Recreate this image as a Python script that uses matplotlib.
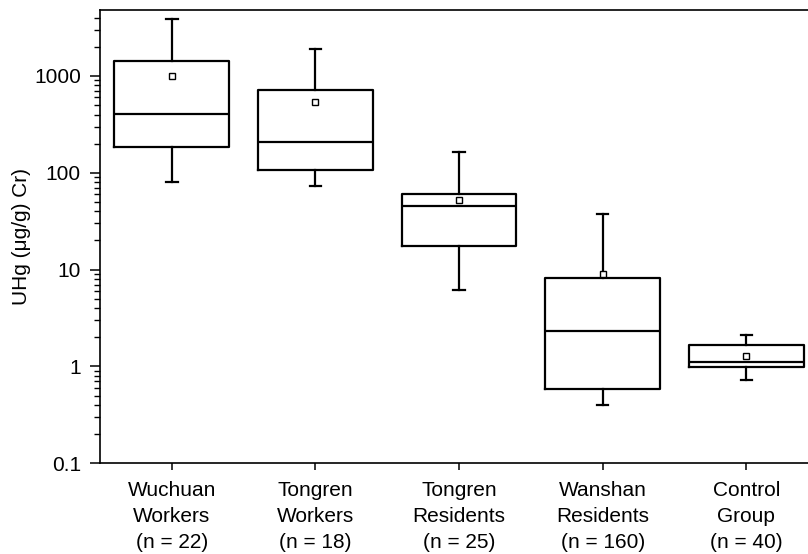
import matplotlib
matplotlib.use("Agg")
import matplotlib.pyplot as plt
from matplotlib.ticker import LogLocator, FixedLocator, FixedFormatter, NullFormatter

plt.rcParams['font.family'] = ['Liberation Sans', 'DejaVu Sans']

groups = ["Wuchuan\nWorkers\n(n = 22)", "Tongren\nWorkers\n(n = 18)",
          "Tongren\nResidents\n(n = 25)", "Wanshan\nResidents\n(n = 160)",
          "Control\nGroup\n(n = 40)"]
whisker_low = [80, 73, 6.2, 0.40, 0.73]
q1 = [185, 108, 17.6, 0.585, 0.98]
median = [406, 207, 45, 2.33, 1.12]
q3 = [1440, 716, 61, 8.2, 1.67]
whisker_high = [3830, 1920, 163, 37.7, 2.12]
mean = [1010, 538, 52.6, 9.0, 1.27]

ytick_vals = [0.1, 1, 10, 100, 1000]
ytick_labels = ["0.1", "1", "10", "100", "1000"]

stats = []
for i in range(len(groups)):
    stats.append(dict(whislo=whisker_low[i], q1=q1[i], med=median[i], q3=q3[i],
                      whishi=whisker_high[i], mean=mean[i], fliers=[]))

fig = plt.figure(figsize=(8.08, 5.54), dpi=100)
ax = fig.add_axes([100/808, 1 - 463.3/554, 1 - 100/808, (463.3 - 10)/554])

lw = 1.6
positions = list(range(1, len(groups) + 1))
ax.bxp(stats, positions=positions, widths=0.8, capwidths=0.08, showmeans=True,
       showfliers=False,
       boxprops=dict(color='black', linewidth=lw),
       whiskerprops=dict(color='black', linewidth=lw),
       capprops=dict(color='black', linewidth=lw),
       medianprops=dict(color='black', linewidth=lw),
       meanprops=dict(marker='s', markersize=4, markerfacecolor='white',
                      markeredgecolor='black', markeredgewidth=1.0))

ax.set_yscale('log')
ax.set_ylim(0.1, 4800)
ax.set_xlim(0.5, 5.43)

ax.yaxis.set_major_locator(FixedLocator(ytick_vals))
ax.yaxis.set_major_formatter(FixedFormatter(ytick_labels))
ax.yaxis.set_minor_locator(LogLocator(base=10, subs=range(2, 10)))
ax.yaxis.set_minor_formatter(NullFormatter())

ax.set_xticks(positions)
ax.set_xticklabels(groups, fontsize=15, linespacing=1.45)

ax.tick_params(axis='y', which='major', direction='out', length=7.2, width=1.1,
               labelsize=15, pad=6.5)
ax.tick_params(axis='y', which='minor', direction='out', length=4.3, width=1.0)
ax.tick_params(axis='x', which='major', direction='out', length=5, width=1.1, pad=8)

for s in ['left', 'bottom', 'top']:
    ax.spines[s].set_linewidth(1.2)
ax.spines['right'].set_visible(False)

ax.set_ylabel("UHg (\u03bcg/g) Cr)", fontsize=15, labelpad=2)

fig.savefig("out.png", dpi=100)
